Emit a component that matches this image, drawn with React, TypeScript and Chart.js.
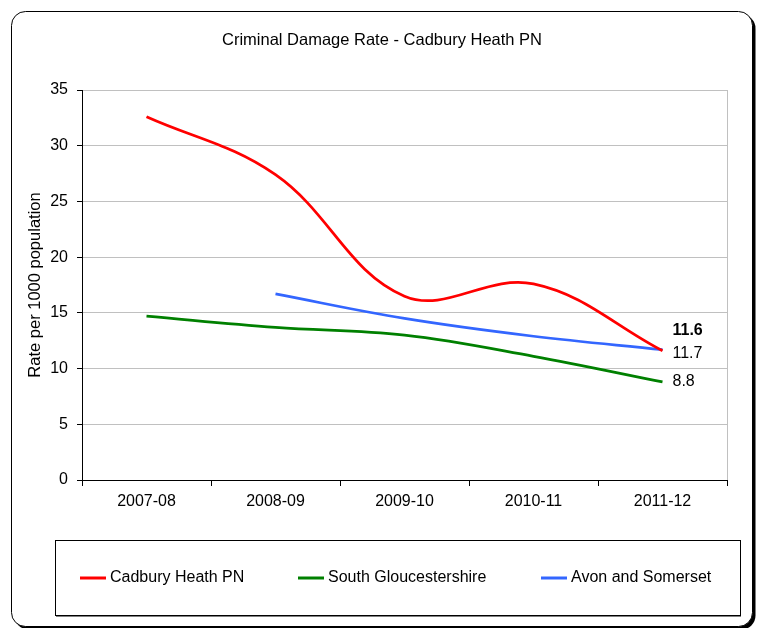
import React, { useEffect, useRef } from 'react';
import { Chart, registerables } from 'chart.js';

Chart.register(...registerables);

// ---- data ----
const categories = ['2007-08', '2008-09', '2009-10', '2010-11', '2011-12'];
const cadburyHeath = [32.6, 27.4, 16.5, 17.6, 11.6];
const southGloucestershire = [14.7, 13.7, 13.0, 11.1, 8.8];
const avonAndSomerset = [null, 16.7, 14.5, 12.9, 11.7];
const seriesNames = ['Cadbury Heath PN', 'South Gloucestershire', 'Avon and Somerset'];
const endLabels = ['11.6', '8.8', '11.7'];
const yMin = 0;
const yMax = 35;
const yStep = 5;
const chartTitle = 'Criminal Damage Rate - Cadbury Heath PN';
const yAxisTitle = 'Rate per 1000 population';

// ---- style ----
const W = 763;
const H = 628;
const FONT = '"Liberation Sans", Arial, sans-serif';
const colors = ['#FF0000', '#008000', '#3366FF'];
const labelStyle = [
  { dx: 10, dy: -20, bold: true },
  { dx: 10, dy: 0, bold: false },
  { dx: 10, dy: 4, bold: false },
];
const legendBox = { x: 55, y: 540, w: 685, h: 75 };
const legendItemX = [80, 298, 541];

const decorPlugin = {
  id: 'decor',
  beforeDraw(chart: any) {
    const ctx = chart.ctx;
    ctx.save();
    // outer rounded border with shadow
    const x = 11.5, y = 11.5, w = 741, h = 615, r = 14;
    ctx.fillStyle = '#000';
    ctx.beginPath();
    ctx.roundRect(x + 3, y + 3, w, h, r);
    ctx.fill();
    ctx.fillStyle = '#fff';
    ctx.beginPath();
    ctx.roundRect(x, y, w, h, r);
    ctx.fill();
    ctx.strokeStyle = '#000';
    ctx.lineWidth = 1;
    ctx.stroke();
    ctx.restore();
  },
  afterDatasetsDraw(chart: any) {
    const ctx = chart.ctx;
    const ca = chart.chartArea;
    ctx.save();
    // plot area right border
    ctx.strokeStyle = '#c0c0c0';
    ctx.lineWidth = 1;
    ctx.beginPath();
    ctx.moveTo(Math.round(ca.right) + 0.5, ca.top);
    ctx.lineTo(Math.round(ca.right) + 0.5, ca.bottom);
    ctx.stroke();

    // title
    ctx.fillStyle = '#000';
    ctx.font = `16.5px ${FONT}`;
    ctx.textAlign = 'center';
    ctx.textBaseline = 'middle';
    ctx.fillText(chartTitle, 382, 40);

    // y axis title
    ctx.save();
    ctx.translate(35, (ca.top + ca.bottom) / 2);
    ctx.rotate(-Math.PI / 2);
    ctx.font = `16.5px ${FONT}`;
    ctx.fillText(yAxisTitle, 0, 0);
    ctx.restore();

    // end labels
    chart.data.datasets.forEach((ds: any, i: number) => {
      const meta = chart.getDatasetMeta(i);
      const pts = meta.data;
      const last = pts[pts.length - 1];
      if (!last) return;
      const st = labelStyle[i];
      ctx.font = `${st.bold ? 'bold ' : ''}16px ${FONT}`;
      ctx.textAlign = 'left';
      ctx.textBaseline = 'middle';
      ctx.fillStyle = '#000';
      ctx.fillText(endLabels[i], last.x + st.dx, last.y + st.dy);
    });

    // legend box
    ctx.fillStyle = '#808080';
    ctx.fillRect(legendBox.x + 1, legendBox.y + legendBox.h, legendBox.w, 2);
    ctx.strokeStyle = '#000';
    ctx.lineWidth = 1;
    ctx.strokeRect(legendBox.x + 0.5, legendBox.y + 0.5, legendBox.w, legendBox.h);
    const ly = legendBox.y + legendBox.h / 2 + 0.5;
    chart.data.datasets.forEach((ds: any, i: number) => {
      const lx = legendItemX[i];
      ctx.strokeStyle = ds.borderColor;
      ctx.lineWidth = 3;
      ctx.beginPath();
      ctx.moveTo(lx, ly);
      ctx.lineTo(lx + 26, ly);
      ctx.stroke();
      ctx.fillStyle = '#000';
      ctx.font = `16px ${FONT}`;
      ctx.textAlign = 'left';
      ctx.textBaseline = 'middle';
      ctx.fillText(ds.label, lx + 30, ly);
    });
    ctx.restore();
  },
};

export default function App() {
  const ref = useRef<HTMLCanvasElement | null>(null);
  useEffect(() => {
    if (!ref.current) return;
    const seriesData = [cadburyHeath, southGloucestershire, avonAndSomerset];
    const chart = new Chart(ref.current, {
      type: 'line',
      data: {
        labels: categories,
        datasets: seriesData.map((d, i) => ({
          label: seriesNames[i],
          data: d,
          borderColor: colors[i],
          backgroundColor: colors[i],
          borderWidth: 2.75,
          pointRadius: 0,
          pointHoverRadius: 0,
          tension: 0.38,
          fill: false,
          spanGaps: false,
        })),
      },
      options: {
        responsive: false,
        animation: false,
        devicePixelRatio: 1,
        events: [],
        layout: { padding: { top: 90, right: 36, left: 0, bottom: 108 } },
        plugins: {
          legend: { display: false },
          title: { display: false },
          tooltip: { enabled: false },
        },
        scales: {
          x: {
            type: 'category',
            offset: true,
            grid: {
              offset: true,
              drawOnChartArea: false,
              drawTicks: true,
              tickLength: 6,
              tickColor: '#000',
            },
            border: { color: '#000', width: 1 },
            ticks: {
              color: '#000',
              font: { family: FONT, size: 16 },
              padding: 6,
              maxRotation: 0,
            },
            afterFit: (s: any) => {
              s.height = 40;
            },
          },
          y: {
            min: yMin,
            max: yMax,
            grid: {
              color: '#c0c0c0',
              lineWidth: 1,
              drawTicks: true,
              tickLength: 5,
              tickColor: '#000',
            },
            border: { color: '#000', width: 1 },
            ticks: {
              stepSize: yStep,
              color: '#000',
              font: { family: FONT, size: 16 },
              padding: 9,
            },
            afterFit: (s: any) => {
              s.width = 82;
            },
          },
        },
      },
      plugins: [decorPlugin],
    });
    return () => chart.destroy();
  }, []);
  return (
    <div style={{ position: 'fixed', left: 0, top: 0, width: W, height: H, background: '#fff' }}>
      <canvas ref={ref} width={W} height={H} style={{ width: W, height: H, display: 'block' }} />
    </div>
  );
}
